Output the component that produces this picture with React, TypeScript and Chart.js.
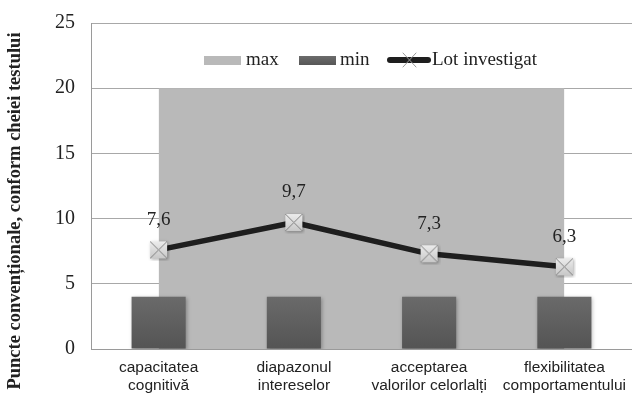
import React, { useEffect, useRef } from "react";
import { Chart, registerables } from "chart.js";

Chart.register(...registerables);

const categories: string[][] = [
  ["capacitatea", "cognitivă"],
  ["diapazonul", "intereselor"],
  ["acceptarea", "valorilor celorlalți"],
  ["flexibilitatea", "comportamentului"],
];
const maxValues = [20, 20, 20, 20];
const minValues = [4, 4, 4, 4];
const lotValues = [7.6, 9.7, 7.3, 6.3];
const yTicks = [0, 5, 10, 15, 20, 25];
const yTitle = "Puncte convenționale, conform cheiei testului";

const SERIF = "'Liberation Serif', 'Times New Roman', serif";
const SANS = "'Liberation Sans', Arial, sans-serif";

function makeMarker(size: number): HTMLCanvasElement {
  const c = document.createElement("canvas");
  const pad = 3;
  c.width = size + pad * 2;
  c.height = size + pad * 2;
  const ctx = c.getContext("2d")!;
  ctx.save();
  ctx.shadowColor = "rgba(0,0,0,0.35)";
  ctx.shadowBlur = 3;
  ctx.shadowOffsetX = 1;
  ctx.shadowOffsetY = 1;
  const g = ctx.createLinearGradient(0, pad, 0, pad + size);
  g.addColorStop(0, "#ececec");
  g.addColorStop(1, "#c8c8c8");
  ctx.fillStyle = g;
  ctx.fillRect(pad, pad, size, size);
  ctx.restore();
  ctx.strokeStyle = "#808080";
  ctx.lineWidth = 1;
  ctx.beginPath();
  ctx.moveTo(pad, pad);
  ctx.lineTo(pad + size, pad + size);
  ctx.moveTo(pad + size, pad);
  ctx.lineTo(pad, pad + size);
  ctx.stroke();
  return c;
}

const shadowPlugin = {
  id: "softShadow",
  beforeDatasetDraw(chart: any, args: any) {
    const ctx = chart.ctx;
    ctx.save();
    if (args.index === 0) {
      ctx.shadowColor = "rgba(0,0,0,0.4)";
      ctx.shadowBlur = 6;
      ctx.shadowOffsetX = 2;
      ctx.shadowOffsetY = 1;
    } else if (args.index === 1) {
      ctx.shadowColor = "rgba(0,0,0,0.3)";
      ctx.shadowBlur = 4;
      ctx.shadowOffsetX = 1;
      ctx.shadowOffsetY = 1;
    }
  },
  afterDatasetDraw(chart: any) {
    chart.ctx.restore();
  },
};

const decorPlugin = {
  id: "decor",
  afterDraw(chart: any) {
    const ctx = chart.ctx;
    // value labels above the line points
    const meta = chart.getDatasetMeta(2);
    ctx.save();
    ctx.fillStyle = "#222";
    ctx.font = `19px ${SERIF}`;
    ctx.textAlign = "center";
    ctx.textBaseline = "middle";
    meta.data.forEach((pt: any, i: number) => {
      ctx.fillText(lotValues[i].toFixed(1).replace(".", ","), pt.x, pt.y - 30);
    });

    // legend
    const ly = 60;
    ctx.textAlign = "left";
    ctx.fillStyle = "#b9b9b9";
    ctx.fillRect(204, ly - 4, 37, 9);
    ctx.fillStyle = "#222";
    ctx.fillText("max", 246, ly);
    const mg = ctx.createLinearGradient(0, ly - 4, 0, ly + 5);
    mg.addColorStop(0, "#6c6c6c");
    mg.addColorStop(1, "#565656");
    ctx.fillStyle = mg;
    ctx.fillRect(299, ly - 4, 37, 9);
    ctx.fillStyle = "#222";
    ctx.fillText("min", 340, ly);
    ctx.strokeStyle = "#1e1e1e";
    ctx.lineWidth = 6;
    ctx.lineCap = "round";
    ctx.beginPath();
    ctx.moveTo(390, ly);
    ctx.lineTo(428, ly);
    ctx.stroke();
    ctx.strokeStyle = "#9a9a9a";
    ctx.lineWidth = 1;
    ctx.beginPath();
    ctx.moveTo(403, ly - 7);
    ctx.lineTo(416, ly + 7);
    ctx.moveTo(416, ly - 7);
    ctx.lineTo(403, ly + 7);
    ctx.stroke();
    ctx.fillStyle = "#222";
    ctx.fillText("Lot investigat", 432, ly);

    // rotated axis title
    ctx.translate(15, 211);
    ctx.rotate(-Math.PI / 2);
    ctx.textAlign = "center";
    ctx.font = `bold 18.5px ${SERIF}`;
    ctx.fillText(yTitle, 0, 0);
    ctx.restore();
  },
};

export default function App() {
  const ref = useRef<HTMLCanvasElement | null>(null);

  useEffect(() => {
    if (!ref.current) return;
    const marker = makeMarker(17);
    const ctx2 = ref.current.getContext("2d")!;
    const barGrad = ctx2.createLinearGradient(0, 297, 0, 349);
    barGrad.addColorStop(0, "#6a6a6a");
    barGrad.addColorStop(1, "#545454");

    const chart = new Chart(ref.current, {
      type: "bar",
      data: {
        labels: categories,
        datasets: [
          {
            type: "line",
            label: "max",
            data: maxValues,
            fill: "origin",
            backgroundColor: "#b9b9b9",
            borderWidth: 0,
            pointRadius: 0,
            order: 3,
          } as any,
          {
            type: "bar",
            label: "min",
            data: minValues,
            backgroundColor: barGrad,
            borderWidth: 0,
            barPercentage: 0.4,
            categoryPercentage: 1,
            order: 2,
          },
          {
            type: "line",
            label: "Lot investigat",
            data: lotValues,
            borderColor: "#1e1e1e",
            borderWidth: 5.5,
            borderCapStyle: "round",
            borderJoinStyle: "round",
            tension: 0,
            fill: false,
            pointStyle: marker,
            pointRadius: 10,
            order: 1,
          } as any,
        ],
      },
      options: {
        animation: false,
        responsive: false,
        maintainAspectRatio: false,
        layout: { autoPadding: false, padding: { top: 23, right: 0, left: 0, bottom: 0 } },
        plugins: {
          legend: { display: false },
          tooltip: { enabled: false },
        },
        scales: {
          x: {
            offset: true,
            grid: { display: false, drawTicks: false },
            border: { display: true, color: "#9a9a9a", width: 1 },
            ticks: {
              color: "#222",
              font: { family: SANS, size: 15.5, lineHeight: 1.16 },
              padding: 10,
              maxRotation: 0,
              autoSkip: false,
            },
            afterFit: (s: any) => {
              s.height = 48;
              s.paddingLeft = 0;
              s.paddingRight = 0;
            },
          },
          y: {
            min: 0,
            max: 25,
            afterBuildTicks: (s: any) => {
              s.ticks = yTicks.map((v) => ({ value: v }));
            },
            grid: { color: "#a8a8a8", lineWidth: 1, drawTicks: false },
            border: { display: true, color: "#9a9a9a", width: 1 },
            ticks: {
              color: "#222",
              font: { family: SERIF, size: 20 },
              padding: 16,
            },
            afterFit: (s: any) => {
              s.width = 91;
              s.paddingTop = 0;
              s.paddingBottom = 0;
            },
          },
        },
      },
      plugins: [shadowPlugin, decorPlugin],
    });
    return () => chart.destroy();
  }, []);

  return (
    <div style={{ position: "fixed", left: 0, top: 0, width: 632, height: 397, background: "#fff" }}>
      <canvas ref={ref} width={632} height={397} style={{ display: "block" }} />
    </div>
  );
}
